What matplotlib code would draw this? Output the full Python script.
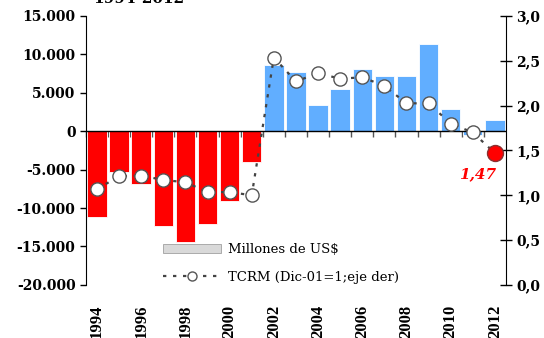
import matplotlib

matplotlib.use("Agg")

import matplotlib.pyplot as plt
from matplotlib.ticker import FuncFormatter

years = list(range(1994, 2013))
balance = [-11200, -5300, -6900, -12300, -14400, -12050, -9100, -4000,
           8600, 7750, 3400, 5450, 8100, 7200, 7200, 11300, 2900, -500, 1500]
tcrm = [1.07, 1.21, 1.22, 1.17, 1.145, 1.035, 1.035, 1.0,
        2.535, 2.27, 2.36, 2.30, 2.315, 2.22, 2.025, 2.025, 1.80, 1.70, 1.47]
year_labels = [str(y) for y in years[::2]]
last_label = "1,47"

RED = "#ff0000"
BLUE = "#61aeff"
SERIF = "DejaVu Serif"


def main() -> None:
    fig = plt.figure(figsize=(5.44, 3.38), dpi=100)
    ax = fig.add_axes([0.158, 0.157, 0.772, 0.796])

    colors = [RED if y <= 2001 else BLUE for y in years]
    bars = ax.bar(years, balance, width=0.88, color=colors, edgecolor="white",
                  linewidth=0.6, zorder=2, label="Millones de US$")
    ax.set_xlim(years[0] - 0.5, years[-1] + 0.5)
    ax.set_ylim(-20000, 15000)
    ax.set_yticks(range(-20000, 15001, 5000))
    ax.yaxis.set_major_formatter(FuncFormatter(lambda v, _: f"{int(v):,}".replace(",", ".")))
    ax.tick_params(axis="y", direction="out", length=4, width=1, labelsize=10)
    for lab in ax.get_yticklabels():
        lab.set_fontfamily(SERIF)
        lab.set_fontweight("bold")

    for side in ("top", "right", "bottom"):
        ax.spines[side].set_visible(False)
    ax.axhline(0, color="black", lw=1, zorder=3)

    ax.set_xticks(years[::2])
    ax.set_xticklabels(year_labels, rotation=90, family="Liberation Serif",
                       fontweight="bold", fontsize=12)
    ax.tick_params(axis="x", length=0, pad=14)

    zero_pos = 20000 / 35000
    sec = ax.secondary_xaxis(zero_pos)
    sec.set_xticks([y + 0.5 for y in years[:-1]] + [years[0] - 0.5])
    sec.tick_params(axis="x", direction="out", length=4, width=1, labelbottom=False,
                    labeltop=False, top=False, bottom=True, colors="#555555")
    sec.spines["bottom"].set_visible(False)
    sec.spines["top"].set_visible(False)

    ax2 = ax.twinx()
    ax2.set_ylim(0, 3)
    ax2.set_yticks([0, 0.5, 1, 1.5, 2, 2.5, 3])
    ax2.yaxis.set_major_formatter(FuncFormatter(lambda v, _: f"{v:.1f}".replace(".", ",")))
    ax2.tick_params(axis="y", direction="inout", length=8, width=1, labelsize=10)
    for lab in ax2.get_yticklabels():
        lab.set_fontfamily(SERIF)
        lab.set_fontweight("bold")
    for side in ("top", "left", "bottom"):
        ax2.spines[side].set_visible(False)

    line, = ax2.plot(years, tcrm, color="#444444", linestyle=(0, (1.5, 3)), lw=1.6,
                     marker="o", markersize=9.5, markerfacecolor="white",
                     markeredgecolor="#555555", markeredgewidth=1.0, zorder=4,
                     label="TCRM (Dic-01=1;eje der)")
    ax2.plot(years[-1], tcrm[-1], marker="o", markersize=11.5, color=RED,
             markeredgecolor="#8a3030", markeredgewidth=1.0, zorder=5)
    ax2.text(years[-1] - 0.8, 1.23, last_label, color=RED, fontsize=11,
             family=SERIF, fontweight="bold", style="italic", ha="center", va="center")

    leg = ax2.legend([bars, line], ["Millones de US$", "TCRM (Dic-01=1;eje der)"],
                     loc="upper left", bbox_to_anchor=(0.155, 0.2), frameon=False,
                     handlelength=4.4, handleheight=0.7, labelspacing=1.1,
                     handletextpad=0.5, prop={"family": SERIF, "size": 9.5})
    leg.legend_handles[0].set_facecolor("#d9d9d9")
    leg.legend_handles[0].set_edgecolor("#a0a0a0")
    leg.legend_handles[1].set_markersize(6.5)

    fig.text(0.171, 0.992, "1994-2012", family=SERIF, fontweight="bold",
             fontsize=11, va="baseline")

    fig.savefig("out.png", dpi=100)
    plt.close(fig)


if __name__ == "__main__":
    main()
